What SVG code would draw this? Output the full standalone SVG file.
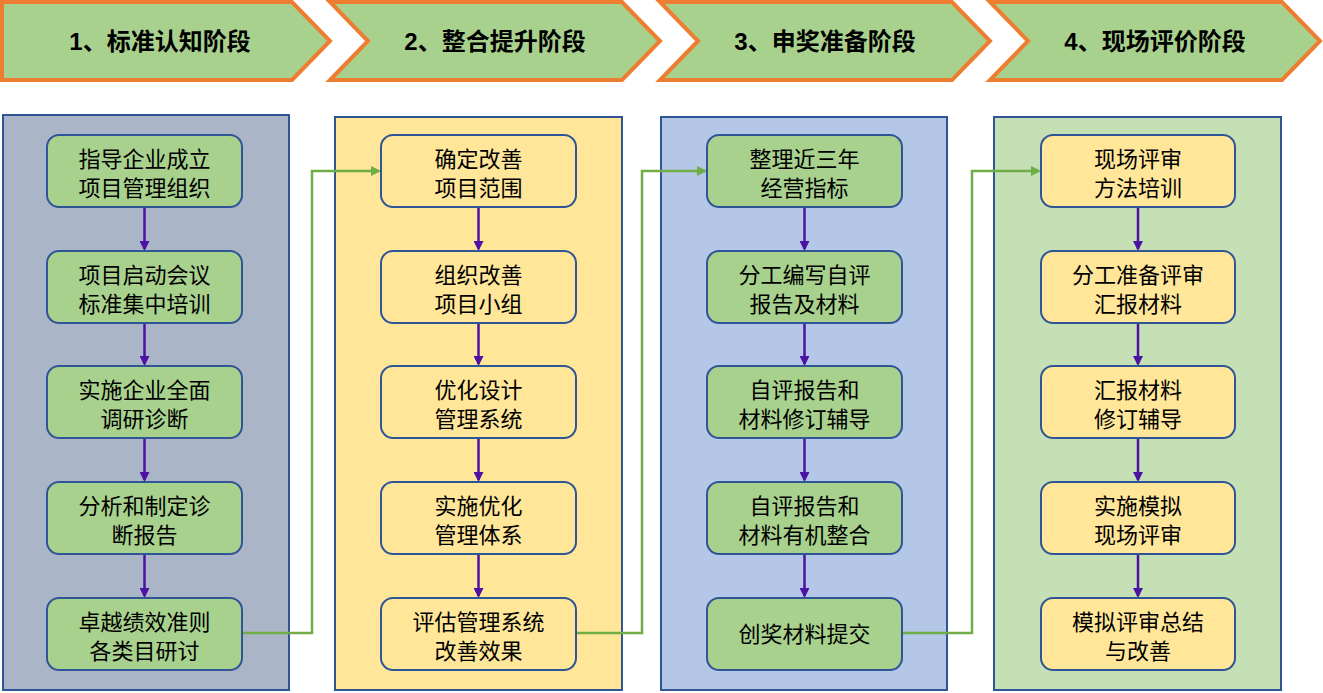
<svg xmlns="http://www.w3.org/2000/svg" width="1323" height="693" viewBox="0 0 1323 693">
<style>
.hd{fill:#A9D18E;stroke:#ED7D31;stroke-width:4}
.ht{font-family:"Liberation Sans","Noto Sans CJK SC",sans-serif;font-size:24px;font-weight:bold;fill:#000;text-anchor:middle}
.pn{stroke:#2F5597;stroke-width:2}
.g{fill:#A9D18E;stroke:#2F5597;stroke-width:2}
.y{fill:#FFE699;stroke:#2F5597;stroke-width:2}
.t{font-family:"Liberation Sans","Noto Sans CJK SC",sans-serif;font-size:22px;fill:#000;text-anchor:middle}
.va{stroke:#4B12A3;stroke-width:2.5;fill:none;marker-end:url(#pa)}
.ga{stroke:#70AD47;stroke-width:2.5;fill:none;marker-end:url(#gaM)}
</style>
<defs>
<marker id="pa" markerWidth="10" markerHeight="10" refX="8" refY="5" orient="auto" markerUnits="userSpaceOnUse"><path d="M0,0 L10,5 L0,10 Z" fill="#4B12A3"/></marker>
<marker id="gaM" markerWidth="10" markerHeight="10" refX="8" refY="5" orient="auto" markerUnits="userSpaceOnUse"><path d="M0,0 L10,5 L0,10 Z" fill="#70AD47"/></marker>
</defs>
<g id="headers">
<g id="h1"><path class="hd" d="M2,2 H292 L330,41 L292,80 H2 Z"/><text class="ht" x="160" y="50">1、标准认知阶段</text></g>
<g id="h2"><path class="hd" d="M330,2 H622 L660,41 L622,80 H330 L368,41 Z"/><text class="ht" x="495" y="50">2、整合提升阶段</text></g>
<g id="h3"><path class="hd" d="M660,2 H952 L990,41 L952,80 H660 L698,41 Z"/><text class="ht" x="825" y="50">3、申奖准备阶段</text></g>
<g id="h4"><path class="hd" d="M990,2 H1282 L1320,41 L1282,80 H990 L1028,41 Z"/><text class="ht" x="1155" y="50">4、现场评价阶段</text></g>
</g>
<g id="panels">
<rect id="p1" class="pn" x="3" y="115" width="286" height="575" fill="#ABB5C8"/>
<rect id="p2" class="pn" x="335" y="117" width="287" height="573" fill="#FFE699"/>
<rect id="p3" class="pn" x="661" y="117" width="286" height="573" fill="#B4C7E7"/>
<rect id="p4" class="pn" x="994" y="117" width="287" height="573" fill="#C5E0B4"/>
</g>
<g id="connectors">
<path class="va" d="M144.5,207 V249"/><path class="va" d="M144.5,323 V364"/><path class="va" d="M144.5,438 V480"/><path class="va" d="M144.5,554 V596"/>
<path class="va" d="M478.5,207 V249"/><path class="va" d="M478.5,323 V364"/><path class="va" d="M478.5,438 V480"/><path class="va" d="M478.5,554 V596"/>
<path class="va" d="M804.5,207 V249"/><path class="va" d="M804.5,323 V364"/><path class="va" d="M804.5,438 V480"/><path class="va" d="M804.5,554 V596"/>
<path class="va" d="M1138,207 V249"/><path class="va" d="M1138,323 V364"/><path class="va" d="M1138,438 V480"/><path class="va" d="M1138,554 V596"/>
<path class="ga" d="M242,633 H312 V171 H379"/>
<path class="ga" d="M576,633 H642 V171 H705"/>
<path class="ga" d="M902,633 H972 V171 H1039"/>
</g>
<g id="c1">
<g id="n11"><rect class="g" x="47" y="135" width="195" height="72" rx="12"/><text class="t" x="144.5" y="167">指导企业成立</text><text class="t" x="144.5" y="196">项目管理组织</text></g>
<g id="n12"><rect class="g" x="47" y="251" width="195" height="72" rx="12"/><text class="t" x="144.5" y="283">项目启动会议</text><text class="t" x="144.5" y="312">标准集中培训</text></g>
<g id="n13"><rect class="g" x="47" y="366" width="195" height="72" rx="12"/><text class="t" x="144.5" y="398">实施企业全面</text><text class="t" x="144.5" y="427">调研诊断</text></g>
<g id="n14"><rect class="g" x="47" y="482" width="195" height="72" rx="12"/><text class="t" x="144.5" y="514">分析和制定诊</text><text class="t" x="144.5" y="543">断报告</text></g>
<g id="n15"><rect class="g" x="47" y="598" width="195" height="72" rx="12"/><text class="t" x="144.5" y="630">卓越绩效准则</text><text class="t" x="144.5" y="659">各类目研讨</text></g>
</g>
<g id="c2">
<g id="n21"><rect class="y" x="381" y="135" width="195" height="72" rx="12"/><text class="t" x="478.5" y="167">确定改善</text><text class="t" x="478.5" y="196">项目范围</text></g>
<g id="n22"><rect class="y" x="381" y="251" width="195" height="72" rx="12"/><text class="t" x="478.5" y="283">组织改善</text><text class="t" x="478.5" y="312">项目小组</text></g>
<g id="n23"><rect class="y" x="381" y="366" width="195" height="72" rx="12"/><text class="t" x="478.5" y="398">优化设计</text><text class="t" x="478.5" y="427">管理系统</text></g>
<g id="n24"><rect class="y" x="381" y="482" width="195" height="72" rx="12"/><text class="t" x="478.5" y="514">实施优化</text><text class="t" x="478.5" y="543">管理体系</text></g>
<g id="n25"><rect class="y" x="381" y="598" width="195" height="72" rx="12"/><text class="t" x="478.5" y="630">评估管理系统</text><text class="t" x="478.5" y="659">改善效果</text></g>
</g>
<g id="c3">
<g id="n31"><rect class="g" x="707" y="135" width="195" height="72" rx="12"/><text class="t" x="804.5" y="167">整理近三年</text><text class="t" x="804.5" y="196">经营指标</text></g>
<g id="n32"><rect class="g" x="707" y="251" width="195" height="72" rx="12"/><text class="t" x="804.5" y="283">分工编写自评</text><text class="t" x="804.5" y="312">报告及材料</text></g>
<g id="n33"><rect class="g" x="707" y="366" width="195" height="72" rx="12"/><text class="t" x="804.5" y="398">自评报告和</text><text class="t" x="804.5" y="427">材料修订辅导</text></g>
<g id="n34"><rect class="g" x="707" y="482" width="195" height="72" rx="12"/><text class="t" x="804.5" y="514">自评报告和</text><text class="t" x="804.5" y="543">材料有机整合</text></g>
<g id="n35"><rect class="g" x="707" y="598" width="195" height="72" rx="12"/><text class="t" x="804.5" y="642">创奖材料提交</text></g>
</g>
<g id="c4">
<g id="n41"><rect class="y" x="1041" y="135" width="194" height="72" rx="12"/><text class="t" x="1138" y="167">现场评审</text><text class="t" x="1138" y="196">方法培训</text></g>
<g id="n42"><rect class="y" x="1041" y="251" width="194" height="72" rx="12"/><text class="t" x="1138" y="283">分工准备评审</text><text class="t" x="1138" y="312">汇报材料</text></g>
<g id="n43"><rect class="y" x="1041" y="366" width="194" height="72" rx="12"/><text class="t" x="1138" y="398">汇报材料</text><text class="t" x="1138" y="427">修订辅导</text></g>
<g id="n44"><rect class="y" x="1041" y="482" width="194" height="72" rx="12"/><text class="t" x="1138" y="514">实施模拟</text><text class="t" x="1138" y="543">现场评审</text></g>
<g id="n45"><rect class="y" x="1041" y="598" width="194" height="72" rx="12"/><text class="t" x="1138" y="630">模拟评审总结</text><text class="t" x="1138" y="659">与改善</text></g>
</g>
</svg>
